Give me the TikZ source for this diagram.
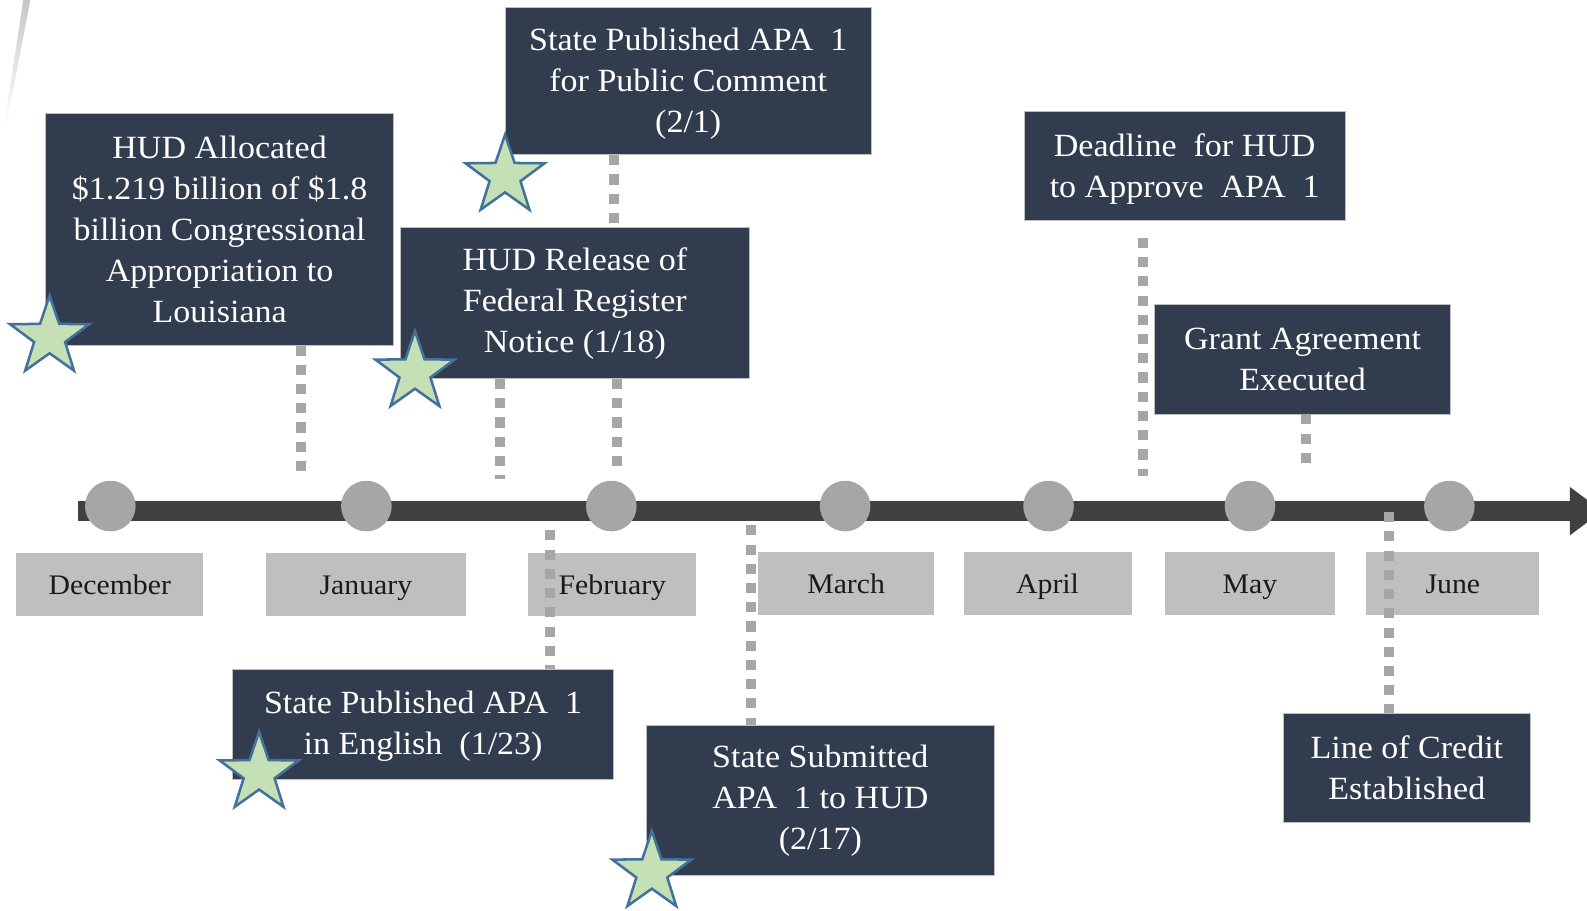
\documentclass[tikz,border=0pt]{standalone}
\usepackage{fontspec}
\setmainfont{Liberation Serif}[FakeStretch=1.05]
\usetikzlibrary{shapes.geometric}
\definecolor{navy}{HTML}{323C4F}
\definecolor{monthgray}{HTML}{BFBFBF}
\definecolor{dotgray}{HTML}{A6A6A6}
\definecolor{bargray}{HTML}{404040}
\definecolor{starfill}{HTML}{C5E0B4}
\definecolor{starline}{HTML}{41719C}
\tikzset{
  evbox/.style={fill=navy, draw=black!25, line width=0.8pt, text=white, align=center, inner sep=0pt,
    font=\fontsize{32}{40.5}\selectfont},
  monthbox/.style={fill=monthgray, text=black!90, inner sep=0pt, minimum height=63pt,
    text height=25pt, text depth=6pt, font=\fontsize{28}{32}\selectfont},
  dashline/.style={draw=dotgray, line width=10pt, dash pattern=on 10pt off 9pt},
  tick/.style={circle, fill=dotgray, minimum size=50pt, inner sep=0pt},
  starmark/.style={star, star points=5, star point ratio=2.55, minimum size=82pt, inner sep=0pt,
    fill=starfill, draw=starline, line width=2.5pt},
}
\begin{document}
\begin{tikzpicture}[x=1pt,y=-1pt]
\useasboundingbox (0,0) rectangle (1568,900);
\clip (0,0) rectangle (1568,900);
% faint decorative line
\shade[top color=black!22, bottom color=white] (23,0) -- (30,0) -- (6,125) -- (4,125) -- cycle;
% timeline bar
\fill[bargray] (77,495) rectangle (1553,515);
\fill[bargray] (1551,481) -- (1583,505) -- (1551,529) -- cycle;
% ticks
\node[tick] (m1) at (109,500) {};
\node[tick] (m2) at (362,500) {};
\node[tick] (m3) at (604,500) {};
\node[tick] (m4) at (835,500) {};
\node[tick] (m5) at (1036,500) {};
\node[tick] (m6) at (1235,500) {};
\node[tick] (m7) at (1432,500) {};
% months
\node[monthbox, minimum width=185pt] (dec) at (108.5,577.5) {December};
\node[monthbox, minimum width=197pt] (jan) at (361.5,577.5) {January};
\node[monthbox, minimum width=166pt] (feb) at (605,577.5) {February};
\node[monthbox, minimum width=174pt] (mar) at (836,576.5) {March};
\node[monthbox, minimum width=166pt] (apr) at (1035,576.5) {April};
\node[monthbox, minimum width=168pt] (may) at (1235,576.5) {May};
\node[monthbox, minimum width=171pt] (jun) at (1435.5,576.5) {June};
% event boxes
\node[evbox, minimum width=344pt, minimum height=229pt] (b1) at (217,226.5)
  {HUD Allocated\\\$1.219 billion of \$1.8\\billion Congressional\\Appropriation to\\Louisiana};
\node[evbox, minimum width=362pt, minimum height=146pt, text depth=1pt] (b2) at (680,80)
  {State Published APA~ 1\\for Public Comment\\(2/1)};
\node[evbox, minimum width=344pt, minimum height=149pt] (b3) at (568,299.5)
  {HUD Release of\\Federal Register\\Notice (1/18)};
\node[evbox, minimum width=317pt, minimum height=108pt, text depth=1pt] (b4) at (1170.5,164)
  {Deadline~ for HUD\\to Approve~ APA~ 1};
\node[evbox, minimum width=292pt, minimum height=108pt] (b5) at (1287,355)
  {Grant Agreement\\Executed};
\node[evbox, minimum width=376pt, minimum height=109pt, text depth=2pt] (b6) at (418,715.5)
  {State Published APA~ 1\\in English~ (1/23)};
\node[evbox, minimum width=343pt, minimum height=148pt] (b7) at (810.5,791)
  {State Submitted\\APA~ 1 to HUD\\(2/17)};
\node[evbox, minimum width=244pt, minimum height=108pt] (b8) at (1390,759)
  {Line of Credit\\Established};
% connector anchor coordinates
\coordinate (e1) at (297,468);
\coordinate (e2) at (607,0);
\coordinate (e3) at (494,473);
\coordinate (e4) at (610,467);
\coordinate (e5a) at (1129,235);
\coordinate (e5b) at (1129,470);
\coordinate (e6) at (1290,461);
\coordinate (e7) at (543,524);
\coordinate (e8) at (742,519);
\coordinate (e9) at (1372,506);
% dashed connectors
\draw[dashline] (b1.south -| e1) -- (e1);
\draw[dashline] (b2.south -| e2) -- (b3.north -| e2);
\draw[dashline] (b3.south -| e3) -- (e3);
\draw[dashline] (b3.south -| e4) -- (e4);
\draw[dashline] (e5a) -- (e5b);
\draw[dashline] (b5.south -| e6) -- (e6);
\draw[dashline] (e7) -- (b6.north -| e7);
\draw[dashline] (e8) -- (b7.north -| e8);
\draw[dashline] (e9) -- (b8.north -| e9);
% stars
\node[starmark] (s1) at (49,333) {};
\node[starmark] (s2) at (499,174) {};
\node[starmark] (s3) at (410,368) {};
\node[starmark] (s4) at (256,764) {};
\node[starmark] (s5) at (644,862) {};
\end{tikzpicture}
\end{document}
